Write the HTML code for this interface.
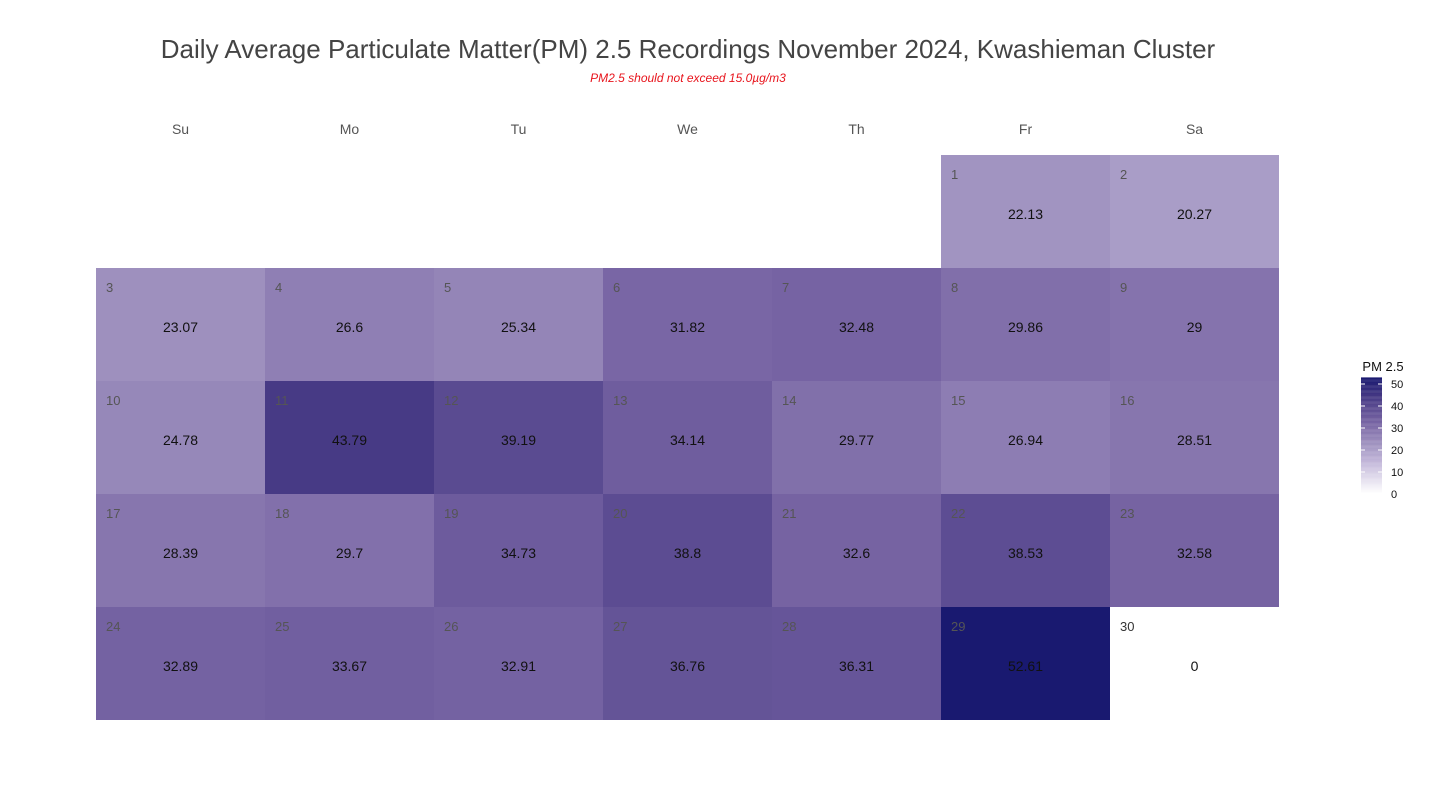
<!DOCTYPE html>
<html><head><meta charset="utf-8"><style>
body{margin:0;background:#fff;font-family:"Liberation Sans",sans-serif;}
#wrap{position:relative;width:1432px;height:798px;overflow:hidden}
</style></head><body><div id="wrap">
<svg id="svg" width="1432" height="798" xmlns="http://www.w3.org/2000/svg">
<text x="688" y="58" text-anchor="middle" font-size="26" fill="#444">Daily Average Particulate Matter(PM) 2.5 Recordings November 2024,  Kwashieman Cluster</text>
<text x="688" y="82" text-anchor="middle" font-size="12" font-style="italic" fill="#e8141c">PM2.5 should not exceed 15.0µg/m3</text>
<g id="cells"></g>
<g id="legend"></g>
</svg></div>
<script>
const weekdays=["Su","Mo","Tu","We","Th","Fr","Sa"];
const days=[1,2,3,4,5,6,7,8,9,10,11,12,13,14,15,16,17,18,19,20,21,22,23,24,25,26,27,28,29,30];
const values=[22.13,20.27,23.07,26.6,25.34,31.82,32.48,29.86,29,24.78,43.79,39.19,34.14,29.77,26.94,28.51,28.39,29.7,34.73,38.8,32.6,38.53,32.58,32.89,33.67,32.91,36.76,36.31,52.61,0];
const legendTicks=[0,10,20,30,40,50];
const firstWeekday=5;
const NS="http://www.w3.org/2000/svg";
const x0=96,cw=169,y0=155,rh=113;
const stops=[[0,[255,255,255]],[15,[192,180,216]],[22,[162,149,193]],[32,[120,101,164]],[44,[70,57,132]],[52.61,[25,25,112]]];
function color(v){
  for(let i=1;i<stops.length;i++){if(v<=stops[i][0]||i==stops.length-1){const a=stops[i-1],b=stops[i];let t=(v-a[0])/(b[0]-a[0]);t=Math.max(0,Math.min(1,t));const c=a[1].map((x,k)=>Math.round(x+(b[1][k]-x)*t));return `rgb(${c})`;}}
}
function el(tag,attrs,parent,text){const e=document.createElementNS(NS,tag);for(const k in attrs)e.setAttribute(k,attrs[k]);if(text!==undefined)e.textContent=text;parent.appendChild(e);return e;}
const svg=document.getElementById('svg'),cells=document.getElementById('cells'),lg=document.getElementById('legend');
weekdays.forEach((w,i)=>{const t=el('text',{x:x0+cw*i+cw/2,y:134,'text-anchor':'middle','font-size':14,fill:'#555'},svg,w);

});
const vmax=52.61;
days.forEach((d,i)=>{const idx=firstWeekday+i,col=idx%7,row=Math.floor(idx/7);const x=x0+col*cw,y=y0+row*rh;
 const g=el('g',{},cells);
 
 
 el('rect',{x:x,y:y,width:cw,height:rh,fill:color(values[i]*52.61/vmax)},g);
 el('text',{x:x+10,y:y+24,'font-size':13,fill:values[i]>0?'#555':'#333'},g,d);
 el('text',{x:x+cw/2,y:y+64,'text-anchor':'middle','font-size':14,fill:'#111'},g,values[i]);
});
const ly=v=>494-v*2.2;
for(let v=0;v<=52.6;v+=0.5){el('rect',{x:1361,y:ly(v+0.5),width:21,height:1.2,fill:color(v)},lg);}
el('text',{x:1383,y:371,'text-anchor':'middle','font-size':13,fill:'#111'},lg,'PM 2.5');
legendTicks.forEach(v=>{el('line',{x1:1361,x2:1365,y1:ly(v),y2:ly(v),stroke:'#fff'},lg);el('line',{x1:1378,x2:1382,y1:ly(v),y2:ly(v),stroke:'#fff'},lg);
 const t=el('text',{x:1391,y:ly(v)+4,'font-size':11,fill:'#111'},lg,v);
 
 });


</script></body></html>
